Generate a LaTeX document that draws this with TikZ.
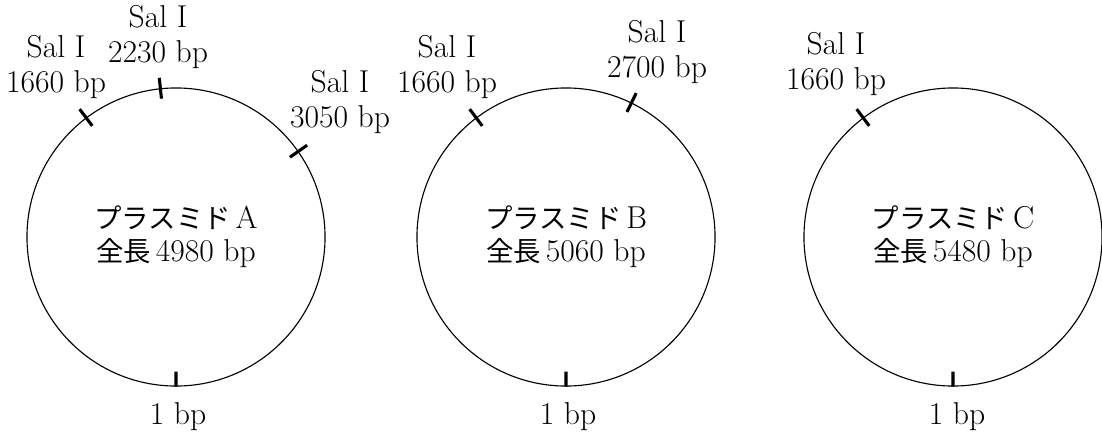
\documentclass[tikz,border=0pt]{standalone}
\usepackage{fontspec}
\newfontfamily\jp{Noto Sans CJK JP}
\newcommand{\kana}[1]{{\fontsize{19.5}{24}\selectfont\jp #1}\hspace{0.15em}}
\usetikzlibrary{calc}

\begin{document}
\begin{tikzpicture}[x=0.025cm, y=0.025cm]

\tikzstyle{plasmid} = [circle, draw=black, line width=0.8pt, minimum size=7.45cm, inner sep=0pt, align=center, font=\fontsize{22.5}{23.5}\selectfont]
\tikzstyle{site} = [align=center, font=\fontsize{22.5}{25}\selectfont]
\tikzstyle{origin} = [font=\fontsize{22.5}{25}\selectfont]
\tikzstyle{tick} = [line width=2.2pt]

\useasboundingbox (0,0) rectangle (1102,437);

\node[plasmid] (A) at (176,200) {\kana{プラスミド}A\\\kana{全長}4980 bp};
\node[plasmid] (B) at (566,200) {\kana{プラスミド}B\\\kana{全長}5060 bp};
\node[plasmid] (C) at (953,200) {\kana{プラスミド}C\\\kana{全長}5480 bp};

\draw[tick] ($(A)!0.93!(A.127)$) -- ($(A)!1.07!(A.127)$);
\draw[tick] ($(A)!0.93!(A.96)$) -- ($(A)!1.07!(A.96)$);
\draw[tick] ($(A)!0.93!(A.35)$) -- ($(A)!1.07!(A.35)$);
\draw[tick] ($(A)!0.9!(A.south)$) -- (A.south);

\draw[tick] ($(B)!0.93!(B.127)$) -- ($(B)!1.07!(B.127)$);
\draw[tick] ($(B)!0.93!(B.64)$) -- ($(B)!1.07!(B.64)$);
\draw[tick] ($(B)!0.9!(B.south)$) -- (B.south);

\draw[tick] ($(C)!0.93!(C.127)$) -- ($(C)!1.07!(C.127)$);
\draw[tick] ($(C)!0.9!(C.south)$) -- (C.south);

\node[site] (A1660) at (56,370) {Sal I\\1660 bp};
\node[site] (A2230) at (158,400) {Sal I\\2230 bp};
\node[site] (A3050) at (340,335) {Sal I\\3050 bp};
\node[origin] (A1) at (178,20) {1 bp};

\node[site] (B1660) at (447,370) {Sal I\\1660 bp};
\node[site] (B2700) at (657,385) {Sal I\\2700 bp};
\node[origin] (B1) at (568,20) {1 bp};

\node[site] (C1660) at (836,373) {Sal I\\1660 bp};
\node[origin] (C1) at (957,20) {1 bp};

\end{tikzpicture}
\end{document}
